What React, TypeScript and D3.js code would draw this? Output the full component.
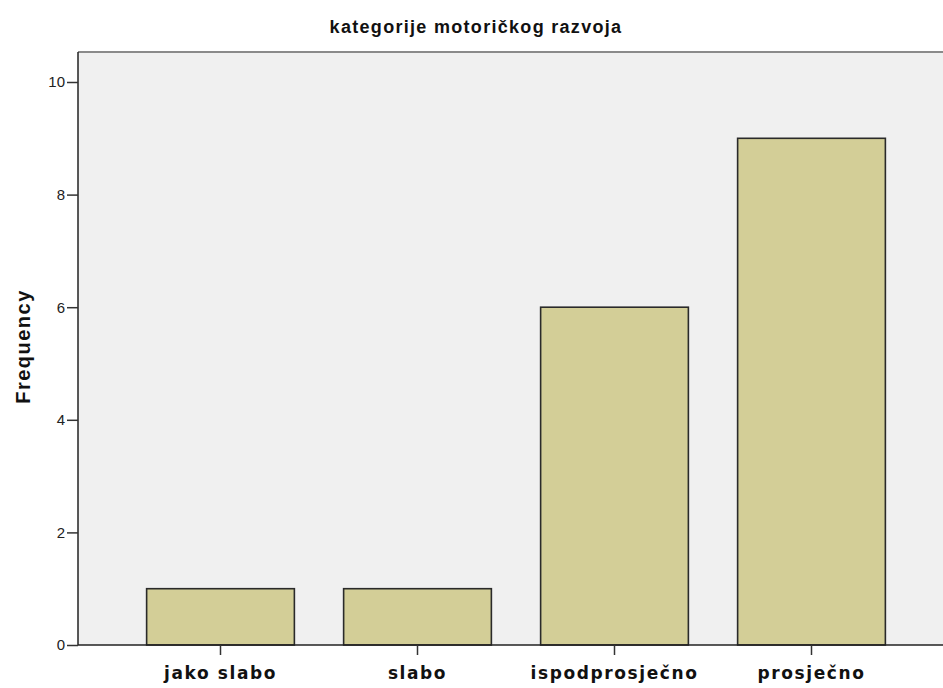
import { useEffect, useRef } from 'react';
import * as d3 from 'd3';

const categories = ['jako slabo', 'slabo', 'ispodprosječno', 'prosječno'];
const frequencies = [1, 1, 6, 9];
const yTicks = [0, 2, 4, 6, 8, 10];

const W = 943;
const H = 688;

export default function App() {
  const svgRef = useRef<SVGSVGElement>(null);

  useEffect(() => {
    if (!svgRef.current) return;
    const svg = d3.select(svgRef.current);
    svg.selectAll('*').remove();

    const left = 78;
    const top = 52;
    const bottom = 645;
    const right = W;

    const y = d3.scaleLinear().domain([0, 10]).range([bottom, 82]);
    const x = d3.scaleBand<string>()
      .domain(categories)
      .range([122, 910])
      .paddingInner(0.25)
      .paddingOuter(0.125);

    // plot background
    svg.append('rect')
      .attr('x', left).attr('y', top)
      .attr('width', right - left).attr('height', bottom - top)
      .attr('fill', '#f0f0f0');

    // top border
    svg.append('line')
      .attr('x1', left).attr('x2', right)
      .attr('y1', top).attr('y2', top)
      .attr('stroke', '#8a8a8a').attr('stroke-width', 2);

    // bars
    svg.selectAll('.bar')
      .data(frequencies)
      .enter()
      .append('rect')
      .attr('class', 'bar')
      .attr('x', (_, i) => x(categories[i])!)
      .attr('y', d => y(d))
      .attr('width', x.bandwidth())
      .attr('height', d => bottom - y(d))
      .attr('fill', '#d3ce97')
      .attr('stroke', '#2a2a2a')
      .attr('stroke-width', 1.6);

    // y axis
    const yAxis = svg.append('g')
      .attr('transform', `translate(${left},0)`)
      .call(d3.axisLeft(y).tickValues(yTicks).tickSize(11).tickPadding(2).tickFormat(d3.format('d')));
    yAxis.select('.domain').attr('d', `M0,${top}V${bottom}`).attr('stroke', '#222').attr('stroke-width', 1.5);
    yAxis.selectAll('.tick line').attr('stroke', '#333').attr('stroke-width', 1.5);
    yAxis.selectAll('.tick text')
      .attr('font-family', '"Liberation Sans Narrow", "Liberation Sans", Arial, sans-serif')
      .attr('font-size', 15)
      .attr('fill', '#222');

    // x axis
    const xAxis = svg.append('g')
      .attr('transform', `translate(0,${bottom})`)
      .call(d3.axisBottom(x).tickSize(10).tickPadding(12));
    xAxis.select('.domain').attr('d', `M${left},0H${right}`).attr('stroke', '#222').attr('stroke-width', 1.5);
    xAxis.selectAll('.tick line').attr('stroke', '#333').attr('stroke-width', 1.5);
    xAxis.selectAll('.tick text')
      .attr('font-family', '"DejaVu Sans", Verdana, sans-serif')
      .attr('font-weight', 'bold')
      .attr('font-size', 17)
      .attr('letter-spacing', 1.6)
      .attr('fill', '#111');

    // y label
    svg.append('text')
      .attr('transform', `translate(30,${(288 + 405) / 2}) rotate(-90)`)
      .attr('text-anchor', 'middle')
      .attr('font-family', '"Liberation Sans", Arial, sans-serif')
      .attr('font-weight', 'bold')
      .attr('font-size', 20)
      .attr('letter-spacing', 1.5)
      .attr('fill', '#111')
      .text('Frequency');

    // title
    svg.append('text')
      .attr('x', 476)
      .attr('y', 33)
      .attr('text-anchor', 'middle')
      .attr('font-family', '"Liberation Sans", Arial, sans-serif')
      .attr('font-weight', 'bold')
      .attr('font-size', 18)
      .attr('letter-spacing', 1.3)
      .attr('fill', '#111')
      .text('kategorije motoričkog razvoja');
  }, []);

  return (
    <svg
      ref={svgRef}
      width={W}
      height={H}
      style={{ display: 'block', position: 'absolute', left: 0, top: 0, background: 'white' }}
    />
  );
}
